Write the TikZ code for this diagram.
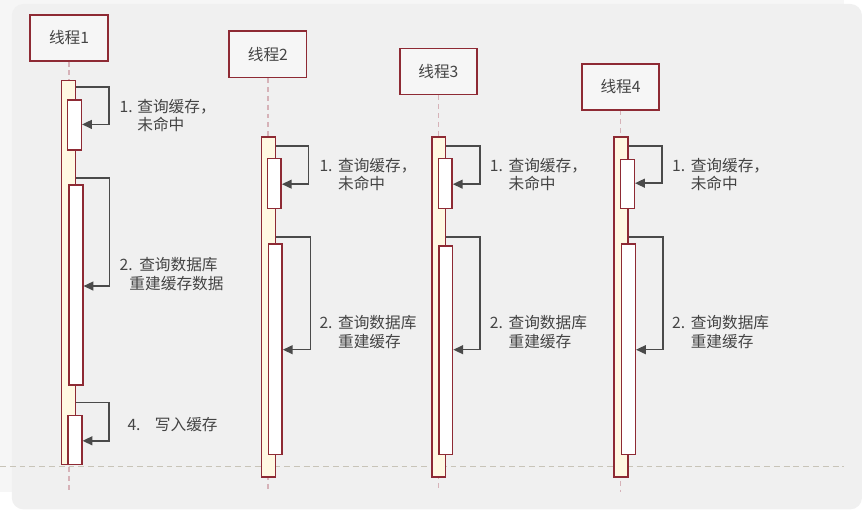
\documentclass[tikz,border=0pt]{standalone}
\usepackage{fontspec}
\setmainfont{Noto Sans CJK SC}
\usepackage{tikz}
\usetikzlibrary{arrows.meta}
\definecolor{frame}{RGB}{142, 42, 52}
\definecolor{life}{RGB}{214, 178, 184}
\definecolor{actfill}{RGB}{255, 248, 226}
\definecolor{ink}{RGB}{74, 74, 74}
\definecolor{txt}{RGB}{68, 68, 68}
\definecolor{canvas}{RGB}{246, 246, 246}
\definecolor{card}{RGB}{240, 240, 240}
\definecolor{rule}{RGB}{200, 196, 184}
\tikzset{
    thread/.style={rectangle, draw=frame, line width=1.8pt, fill=card!60!white, minimum width=79pt, minimum height=47pt, inner sep=0pt, text=txt, font=\fontsize{16}{19}\selectfont},
    act/.style={rectangle, draw=frame, line width=1.5pt, fill=actfill, minimum width=14pt, inner sep=0pt},
    inner/.style={act, fill=white},
    call/.style={line width=1.6pt, draw=ink, -{Triangle[length=10pt,width=9pt]}},
    lifeline/.style={draw=life, dashed, line width=1.3pt, dash pattern=on 5pt off 4pt},
    note/.style={anchor=west, align=left, text=txt, inner sep=0pt, font=\fontsize{16}{19}\selectfont}
}

\begin{document}
\begin{tikzpicture}[x=1pt, y=-1pt]
    % canvas
    \fill[canvas] (0,0) rectangle (862,502);
    \fill[card, rounded corners=12pt] (12,4) rectangle (880,520);
    \useasboundingbox (0,0) rectangle (862,502);
    \draw[rule, dashed, line width=1pt, dash pattern=on 6pt off 4pt] (0,476) -- (862,476);

    % thread 1
    \node[thread] (t1) at (70.5,38.5) {线程1};
    \draw[lifeline] (t1.south) -- (t1.south |- 0,502);
    \node[act, minimum height=392pt] (a1) at (70,278) {};
    \node[inner, minimum height=51pt] (b11) at (76,127.5) {};
    \node[inner, minimum height=204pt] (b12) at (77.5,291) {};
    \node[inner, minimum height=50pt] (b14) at (76.5,449) {};
    \draw[call] (a1.east |- 0,89) -- (111,89) |- (b11.east |- 0,127);
    \draw[call] (a1.east |- 0,182) -- (112,182) |- (b12.east |- 0,292);
    \draw[call] (a1.east |- 0,411) -- (111,411) |- (b14.east |- 0,450);
    \node[note] (n11) at (122,118) {\makebox[18pt][l]{1.}查询缓存，\\\hspace*{18pt}未命中};
    \node[note] (n12) at (122,280) {\makebox[20pt][l]{2.}查询数据库\\\hspace*{10pt}重建缓存数据};
    \node[note] (n14) at (130,433) {\makebox[28pt][l]{4.}写入缓存};

    % thread 2
    \node[thread] (t2) at (273.5,55.5) {线程2};
    \draw[lifeline] (t2.south) -- (t2.south |- 0,502);
    \node[act, minimum height=347pt] (a2) at (274,313.5) {};
    \node[inner, minimum height=51pt] (b21) at (280,187.5) {};
    \node[inner, minimum height=215pt] (b22) at (281,356.5) {};
    \draw[call] (a2.east |- 0,149) -- (315,149) |- (b21.east |- 0,188);
    \draw[call] (a2.east |- 0,242) -- (317,242) |- (b22.east |- 0,357);
    \node[note] (n21) at (326,178) {\makebox[19pt][l]{1.}查询缓存，\\\hspace*{19pt}未命中};
    \node[note] (n22) at (326,339) {\makebox[19pt][l]{2.}查询数据库\\\hspace*{19pt}重建缓存};

    % thread 3
    \node[thread] (t3) at (447.5,73) {线程3};
    \draw[lifeline] (t3.south) -- (t3.south |- 0,502);
    \node[act, minimum height=347pt] (a3) at (448,313.5) {};
    \node[inner, minimum height=51pt] (b31) at (454.5,187.5) {};
    \node[inner, minimum height=213pt] (b32) at (455,357.5) {};
    \draw[call] (a3.east |- 0,149) -- (490,149) |- (b31.east |- 0,188);
    \draw[call] (a3.east |- 0,242) -- (490,242) |- (b32.east |- 0,357);
    \node[note] (n31) at (500,178) {\makebox[19pt][l]{1.}查询缓存，\\\hspace*{19pt}未命中};
    \node[note] (n32) at (500,339) {\makebox[19pt][l]{2.}查询数据库\\\hspace*{19pt}重建缓存};

    % thread 4
    \node[thread] (t4) at (633.5,88.5) {线程4};
    \draw[lifeline] (t4.south) -- (t4.south |- 0,502);
    \node[act, minimum height=347pt] (a4) at (634,313.5) {};
    \node[inner, minimum height=50pt] (b41) at (640.5,188) {};
    \node[inner, minimum height=215pt] (b42) at (641.5,356.5) {};
    \draw[call] (a4.east |- 0,149) -- (676,149) |- (b41.east |- 0,187);
    \draw[call] (a4.east |- 0,242) -- (677,242) |- (b42.east |- 0,357);
    \node[note] (n41) at (686,178) {\makebox[19pt][l]{1.}查询缓存，\\\hspace*{19pt}未命中};
    \node[note] (n42) at (686,339) {\makebox[19pt][l]{2.}查询数据库\\\hspace*{19pt}重建缓存};
\end{tikzpicture}
\end{document}
